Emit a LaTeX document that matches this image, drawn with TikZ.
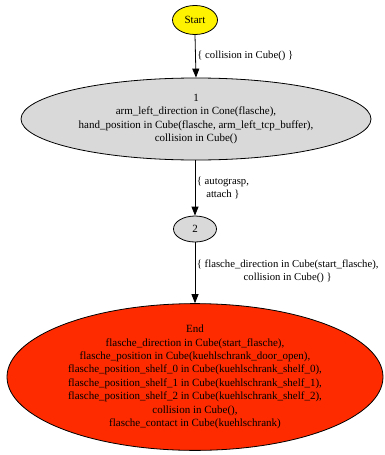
\documentclass[tikz,border=0pt]{standalone}
\usepackage{fontspec}
\setmainfont{Liberation Serif}
\usetikzlibrary{arrows.meta,shapes.geometric}
\definecolor{endred}{RGB}{255,43,0}
\definecolor{nodegray}{RGB}{217,217,217}
\tikzset{
  state/.style={ellipse, draw=black, line width=0.8pt, inner sep=0pt, align=center,
    font=\fontsize{11}{13.4}\selectfont},
  edge/.style={draw=black, line width=0.8pt, -{Triangle[length=9pt,width=7pt]}},
  elabel/.style={font=\fontsize{10.7}{13.2}\selectfont, align=center, inner sep=0pt, anchor=west}
}
\begin{document}
\begin{tikzpicture}[x=1pt,y=-1pt]
\useasboundingbox (0,0) rectangle (384,455);
\node[state, fill=yellow, minimum width=45pt, minimum height=29pt] (start) at (195,20) {Start};
\node[state, fill=nodegray, minimum width=350pt, minimum height=82pt] (n1) at (196,119)
  {1\\arm\_left\_direction in Cone(flasche),\\hand\_position in Cube(flasche, arm\_left\_tcp\_buffer),\\collision in Cube()};
\node[state, fill=nodegray, minimum width=43pt, minimum height=26pt] (n2) at (195,229) {2};
\node[state, fill=endred, minimum width=376pt, minimum height=144pt] (end) at (195,377)
  {End\\flasche\_direction in Cube(start\_flasche),\\flasche\_position in Cube(kuehlschrank\_door\_open),\\flasche\_position\_shelf\_0 in Cube(kuehlschrank\_shelf\_0),\\flasche\_position\_shelf\_1 in Cube(kuehlschrank\_shelf\_1),\\flasche\_position\_shelf\_2 in Cube(kuehlschrank\_shelf\_2),\\collision in Cube(),\\flasche\_contact in Cube(kuehlschrank)};
\draw[edge] (start.south) -- (n1.north) node[elabel, pos=0.5, xshift=1.5pt] (l1) {\{ collision in Cube() \}};
\draw[edge] (n1.south -| n2.north) -- (n2.north) node[elabel, pos=0.5, xshift=1.5pt] (l2) {\{ autograsp,\\attach \}};
\draw[edge] (n2.south) -- (end.north) node[elabel, pos=0.48, xshift=1.5pt] (l3) {\{ flasche\_direction in Cube(start\_flasche),\\collision in Cube() \}};
\end{tikzpicture}
\end{document}
